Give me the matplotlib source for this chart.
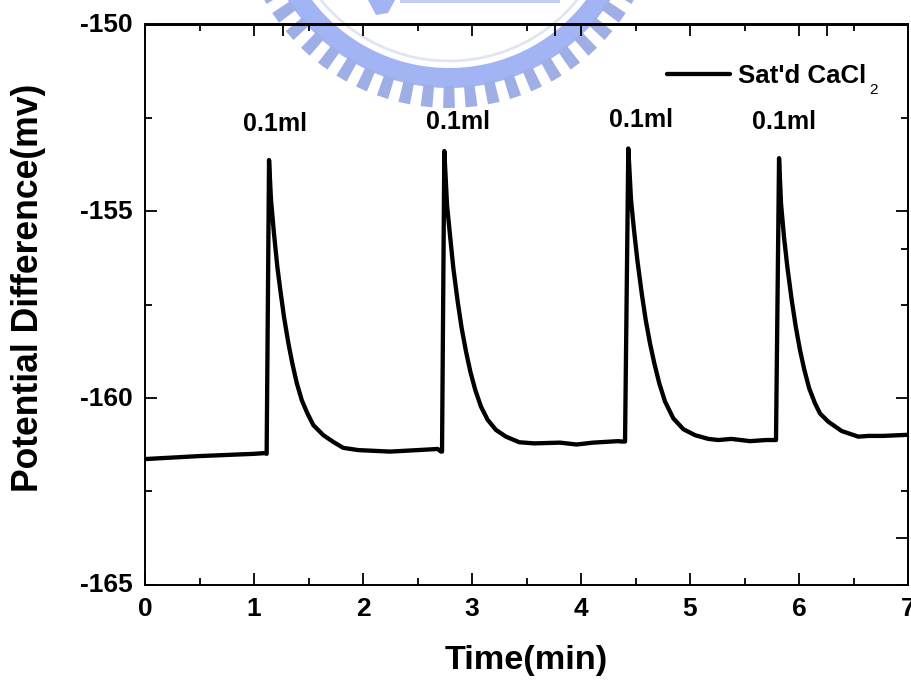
import numpy as np
import matplotlib
matplotlib.use("Agg")
import matplotlib.pyplot as plt
from matplotlib.patches import Polygon
from matplotlib.transforms import ScaledTranslation

plt.rcParams['font.family'] = ['Liberation Sans', 'DejaVu Sans']

# ---- data ----
time_min = [0, 0.5, 1.0, 1.10, 1.116,
            1.138, 1.156, 1.183, 1.214, 1.245, 1.275, 1.315, 1.351, 1.392, 1.438, 1.489, 1.544, 1.636, 1.727,
            1.819, 1.957, 2.248, 2.50, 2.685, 2.716, 2.725,
            2.746, 2.771, 2.798, 2.829, 2.869, 2.905, 2.945, 2.985, 3.03, 3.083, 3.144, 3.22, 3.312, 3.434,
            3.572, 3.807, 3.96, 4.11, 4.34, 4.373, 4.404,
            4.434, 4.459, 4.486, 4.517, 4.557, 4.594, 4.633, 4.673, 4.718, 4.771, 4.847, 4.939, 5.046, 5.168,
            5.26, 5.38, 5.55, 5.70, 5.789,
            5.817, 5.835, 5.862, 5.893, 5.933, 5.97, 6.009, 6.049, 6.094, 6.147, 6.193, 6.269, 6.392, 6.544,
            6.636, 6.77, 7.0]
potential_mv = [-161.64, -161.56, -161.5, -161.48, -161.5,
                -153.63, -154.70, -155.59, -156.49, -157.19, -157.83, -158.53, -159.07, -159.60, -160.06,
                -160.41, -160.73, -161.00, -161.18,
                -161.34, -161.40, -161.44, -161.40, -161.37, -161.44, -161.44,
                -153.39, -154.84, -155.64, -156.53, -157.43, -158.13, -158.76, -159.30, -159.79, -160.24,
                -160.59, -160.86, -161.04, -161.19,
                -161.22, -161.20, -161.25, -161.20, -161.16, -161.17, -161.17,
                -153.32, -154.70, -155.50, -156.31, -157.20, -157.92, -158.54, -159.08, -159.61, -160.10,
                -160.55, -160.84, -161.00, -161.10,
                -161.13, -161.10, -161.16, -161.13, -161.13,
                -153.58, -154.79, -155.68, -156.49, -157.38, -158.09, -158.72, -159.25, -159.75, -160.15,
                -160.42, -160.64, -160.89, -161.04,
                -161.02, -161.02, -160.99]
x_major = [0, 1, 2, 3, 4, 5, 6, 7]
x_minor = [0.5, 1.5, 2.5, 3.5, 4.5, 5.5, 6.5]
y_major = [-150, -155, -160, -165]
y_minor = [-152.5, -157.5, -162.5]
top_extra = [1.27, 3.76, 6.26]
right_extra_minor = [-156.0]
right_extra_major = [-163.75]
dose_x = [1.19, 2.87, 4.55, 5.86]
dose_y = [-152.67, -152.6, -152.55, -152.6]
dose_label = "0.1ml"
series_label = "Sat'd CaCl"

W, H = 911, 680
fig = plt.figure(figsize=(W / 100, H / 100), dpi=100, facecolor='white')

# ---- faint seal watermark behind the plot ----
bg = fig.add_axes([0, 0, 1, 1])
bg.set_xlim(0, W)
bg.set_ylim(H, 0)
bg.axis('off')
cx, cy = 449, -104
blue = '#a3b4f4'
def pt(r, t):
    return np.column_stack([cx + r * np.sin(t), cy + r * np.cos(t)])
t = np.radians(np.linspace(-66, 66, 240))
bg.add_patch(Polygon(np.vstack([pt(172, t), pt(192, t[::-1])]), fc=blue, ec='none'))
bg.plot(*pt(165, t).T, color='#e0e6f0', lw=2)
for c in np.radians(np.arange(-61, 61.5, 6.1)):
    dt = np.radians(1.6)
    tt = np.array([c - dt, c + dt])
    bg.add_patch(Polygon(np.vstack([pt(190, tt), pt(212, tt[::-1])]), fc='#a0aee6', ec='none'))
bg.add_patch(Polygon([(368, 0), (395, 0), (388, 13), (376, 15)], fc=blue, ec='none'))
bg.add_patch(Polygon([(400, 0), (560, 0), (560, 3), (400, 3)], fc='#c5cff5', ec='none'))

# ---- main axes ----
ax = fig.add_axes([145 / W, 1 - 584.5 / H, 763 / W, 560 / H])
ax.patch.set_alpha(0)
ax.plot(time_min, potential_mv, color='black', lw=3.1, solid_joinstyle='round', solid_capstyle='round',
        label=series_label)
ax.set_xlim(0, 7)
ax.set_ylim(-165, -150)

for s in ax.spines.values():
    s.set_linewidth(1.4)
ax.set_xticks(x_major)
ax.set_xticks(x_minor, minor=True)
ax.set_yticks(y_major)
ax.set_yticks(y_minor, minor=True)
ax.set_xticklabels([str(v) for v in x_major])
ax.set_yticklabels([str(v) for v in y_major])
ax.tick_params(which='major', direction='in', length=8.6, width=1.3, labelsize=19, pad=9)
ax.tick_params(which='minor', direction='in', length=4.7, width=1.3)
ax.tick_params(axis='y', which='major', pad=9)
up = ScaledTranslation(0, 1.5 / 100, fig.dpi_scale_trans)
for lab in ax.get_xticklabels() + ax.get_yticklabels():
    lab.set_fontweight('bold')
    lab.set_clip_on(False)
for lab in ax.get_yticklabels():
    lab.set_transform(lab.get_transform() + up)

# top and right mirrors, carrying the extra stray ticks of the source
top = ax.secondary_xaxis('top')
top.set_xticks(x_major + top_extra)
top.set_xticks(x_minor, minor=True)
top.tick_params(which='major', direction='in', length=8.6, width=1.3, labeltop=False)
top.tick_params(which='minor', direction='in', length=4.7, width=1.3)
right = ax.secondary_yaxis('right')
right.set_yticks(y_major + right_extra_major)
right.set_yticks(y_minor + right_extra_minor, minor=True)
right.tick_params(which='major', direction='in', length=8.6, width=1.3, labelright=False)
right.tick_params(which='minor', direction='in', length=4.7, width=1.3)
top.spines['top'].set_linewidth(1.4)
right.spines['right'].set_linewidth(1.4)

for xv, yv in zip(dose_x, dose_y):
    ax.text(xv, yv, dose_label, ha='center', va='center', fontsize=18, fontweight='bold')

ax.legend(loc='center left', bbox_to_anchor=((667 - 145) / 763, 1 - (76 - 24.5) / 560), frameon=False,
          borderpad=0, borderaxespad=0, handlelength=2.45, handletextpad=0.28,
          prop={'size': 18.6, 'weight': 'bold', 'family': ['Liberation Sans', 'DejaVu Sans']})
fig.text(873 / W, 1 - 90 / H, "2", ha='center', va='center', fontsize=11)

fig.text(526 / W, 1 - 660 / H, "Time(min)", ha='center', va='center', fontsize=24.7, fontweight='bold')
fig.text(29 / W, 1 - 288 / H, "Potential Difference(mv)", ha='center', va='center', rotation=90,
         fontsize=25.6, fontweight='bold')

fig.savefig('out.png', dpi=100)
